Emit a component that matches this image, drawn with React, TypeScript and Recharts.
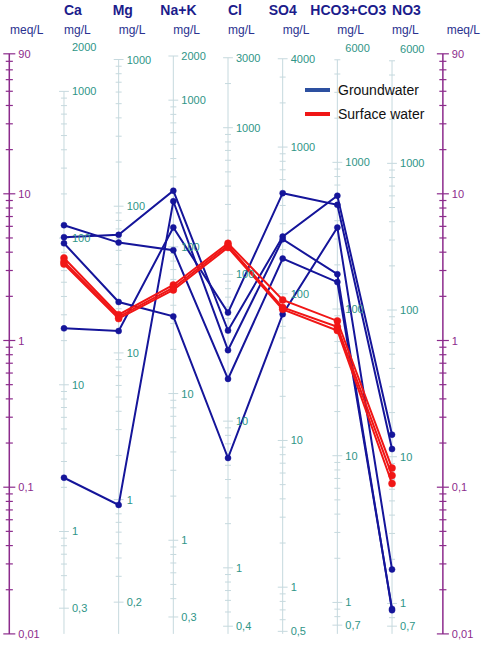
import { LineChart, Line, XAxis, YAxis, ReferenceLine, ReferenceDot, Legend } from 'recharts'

const FONT = '"Liberation Sans", Arial, Helvetica, sans-serif'

const IONS = ['Ca', 'Mg', 'Na+K', 'Cl', 'SO4', 'HCO3+CO3', 'NO3']

// groundwater samples, meq/L in the order of IONS
const GW_1 = [5.06, 5.25, 10.5, 1.17, 5.11, 9.7, 0.228]
const GW_2 = [6.11, 4.65, 4.13, 0.547, 3.62, 2.5, 0.0148]
const GW_3 = [4.6, 1.83, 1.46, 0.158, 1.51, 5.89, 0.0275]
const GW_4 = [0.116, 0.0757, 8.9, 0.859, 4.9, 2.83, 0.0145]
const GW_5 = [1.21, 1.16, 5.9, 1.55, 10.1, 8.41, 0.182]

// surface water samples, meq/L
const SW_1 = [3.65, 1.5, 2.39, 4.6, 1.89, 1.36, 0.135]
const SW_2 = [3.44, 1.45, 2.29, 4.45, 1.68, 1.24, 0.12]
const SW_3 = [3.32, 1.41, 2.21, 4.3, 1.63, 1.17, 0.106]

const GROUND = [GW_1, GW_2, GW_3, GW_4, GW_5]
const SURFACE = [SW_1, SW_2, SW_3]

// mg/L scales: equivalent weight and labelled values per column
const EQ_WEIGHT = [20.04, 12.15, 23.0, 35.45, 48.03, 61.02, 62.0]
const MG_LABELS = [
  [2000, 1000, 100, 10, 1, 0.3],
  [1000, 100, 10, 1, 0.2],
  [2000, 1000, 100, 10, 1, 0.3],
  [3000, 1000, 100, 10, 1, 0.4],
  [4000, 1000, 100, 10, 1, 0.5],
  [6000, 1000, 100, 10, 1, 0.7],
  [6000, 1000, 100, 10, 1, 0.7],
]
const MEQ_LABELS = [90, 10, 1, 0.1, 0.01]

const W = 482
const H = 647
const BLUE = '#15159a'
const LEGEND_BLUE = '#2d50a0'
const RED = '#f01616'
const PURPLE = '#8c2b8c'
const TEAL = '#2f9587'
const AXIS_GREY = '#c6d9de'
const NAVY = '#1c1c8c'
const UNIT = '#2a3290'

const RIGHT_AXIS_X = 7.93
const HEADER_DX = [0, -6, -13, 0, -14, -27, 0]

const data = IONS.map((ion, i) => {
  const row: Record<string, any> = { x: i + 1, ion }
  GROUND.forEach((s, k) => (row['gw' + k] = s[i]))
  SURFACE.forEach((s, k) => (row['sw' + k] = s[i]))
  return row
})

const fmt = (v: number) => String(v).replace('.', ',')

function logTicks(lo: number, hi: number) {
  const out: number[] = []
  for (let e = Math.floor(Math.log10(lo)); e <= Math.ceil(Math.log10(hi)); e++) {
    for (let k = 1; k <= 9; k++) {
      const v = Number((k * Math.pow(10, e)).toPrecision(3))
      if (v >= lo * 0.999 && v <= hi * 1.001) out.push(v)
    }
  }
  return out
}

const labelShape = (text: string, color: string, dx: number) => (p: any) => (
  <text x={p.cx + dx} y={p.cy} dy={4} fill={color} fontSize={11} fontFamily={FONT}>
    {text}
  </text>
)

function HeaderTick(props: any) {
  const { x, payload } = props
  const i = payload.value
  const unit = i === 0 || i === 8 ? 'meq/L' : 'mg/L'
  return (
    <g>
      {i >= 1 && i <= 7 && (
        <text x={x + HEADER_DX[i - 1]} y={15} fill={NAVY} fontSize={14} fontWeight="bold" fontFamily={FONT}>
          {IONS[i - 1]}
        </text>
      )}
      <text x={i === 0 ? x + 0.7 : x} y={34} fill={UNIT} fontSize={12} fontFamily={FONT}>
        {unit}
      </text>
    </g>
  )
}

const LegendBox = () => (
  <div style={{ fontFamily: FONT, fontSize: 14, color: '#111' }}>
    {[['Groundwater', LEGEND_BLUE], ['Surface water', RED]].map(([name, c]) => (
      <div key={name} style={{ display: 'flex', alignItems: 'center', height: 24 }}>
        <span style={{ display: 'inline-block', width: 25, height: 4, background: c, marginRight: 8 }} />
        {name}
      </div>
    ))}
  </div>
)

function axisMarks() {
  const out: any[] = []
  // meq/L axes on both sides
  ;[0, RIGHT_AXIS_X].forEach((ax, a) => {
    out.push(
      <ReferenceLine key={`meq-${a}`} segment={[{ x: ax, y: 0.01 }, { x: ax, y: 90 }]}
        stroke={PURPLE} strokeWidth={1.5} ifOverflow="visible" />
    )
    logTicks(0.01, 90).forEach(v => {
      const d = MEQ_LABELS.includes(v) ? 0.11 : 0.065
      out.push(
        <ReferenceLine key={`meq-${a}-${v}`} segment={[{ x: ax - d, y: v }, { x: ax + d, y: v }]}
          stroke={PURPLE} strokeWidth={1.2} ifOverflow="visible" />
      )
    })
    MEQ_LABELS.forEach(v =>
      out.push(
        <ReferenceDot key={`meql-${a}-${v}`} x={ax} y={v} r={0} ifOverflow="visible"
          shape={labelShape(fmt(v), PURPLE, 9)} />
      )
    )
  })
  // mg/L axis for every ion
  IONS.forEach((_, i) => {
    const cx = i + 1
    const eq = EQ_WEIGHT[i]
    const labels = MG_LABELS[i]
    const ticks = logTicks(Math.min(...labels), Math.max(...labels)).filter(v => v / eq <= 88)
    const top = Math.max(...ticks) / eq
    out.push(
      <ReferenceLine key={`mg-${i}`} segment={[{ x: cx, y: 0.01 }, { x: cx, y: top }]}
        stroke={AXIS_GREY} strokeWidth={1} ifOverflow="visible" />
    )
    ticks.forEach(v => {
      const d = labels.includes(v) ? 0.09 : 0.055
      out.push(
        <ReferenceLine key={`mg-${i}-${v}`} segment={[{ x: cx - d, y: v / eq }, { x: cx + d, y: v / eq }]}
          stroke={AXIS_GREY} strokeWidth={1} ifOverflow="visible" />
      )
    })
    labels.forEach(v =>
      out.push(
        <ReferenceDot key={`mgl-${i}-${v}`} x={cx} y={v / eq} r={0} ifOverflow="visible"
          shape={labelShape(fmt(v), TEAL, 8)} />
      )
    )
  })
  return out
}

export default function App() {
  return (
    <div style={{ position: 'absolute', left: 0, top: 0 }}>
      <LineChart width={W} height={H} data={data}
        margin={{ top: 7.1, right: 35.3, bottom: 13.1, left: 9.3 }} style={{ fontFamily: FONT }}>
        <XAxis type="number" dataKey="x" domain={[0, 8]} ticks={[0, 1, 2, 3, 4, 5, 6, 7, 8]} interval={0}
          orientation="top" height={40} axisLine={false} tickLine={false} tick={HeaderTick} allowDataOverflow />
        <YAxis type="number" scale="log" domain={[0.01, 100]} hide allowDataOverflow />
        {axisMarks()}
        {GROUND.map((_, k) => (
          <Line key={`gw${k}`} type="linear" dataKey={`gw${k}`} stroke={BLUE} strokeWidth={2}
            dot={{ r: 3, fill: BLUE, stroke: BLUE, strokeWidth: 0.5 }} activeDot={false}
            legendType="none" isAnimationActive={false} />
        ))}
        {SURFACE.map((_, k) => (
          <Line key={`sw${k}`} type="linear" dataKey={`sw${k}`} stroke={RED} strokeWidth={2}
            dot={{ r: 3.5, fill: RED, stroke: RED, strokeWidth: 0.5 }} activeDot={false}
            legendType="none" isAnimationActive={false} />
        ))}
        <Legend layout="horizontal" verticalAlign="middle" align="center"
          wrapperStyle={{ left: 305, top: 78, width: 160 }} content={LegendBox} />
      </LineChart>
    </div>
  )
}
